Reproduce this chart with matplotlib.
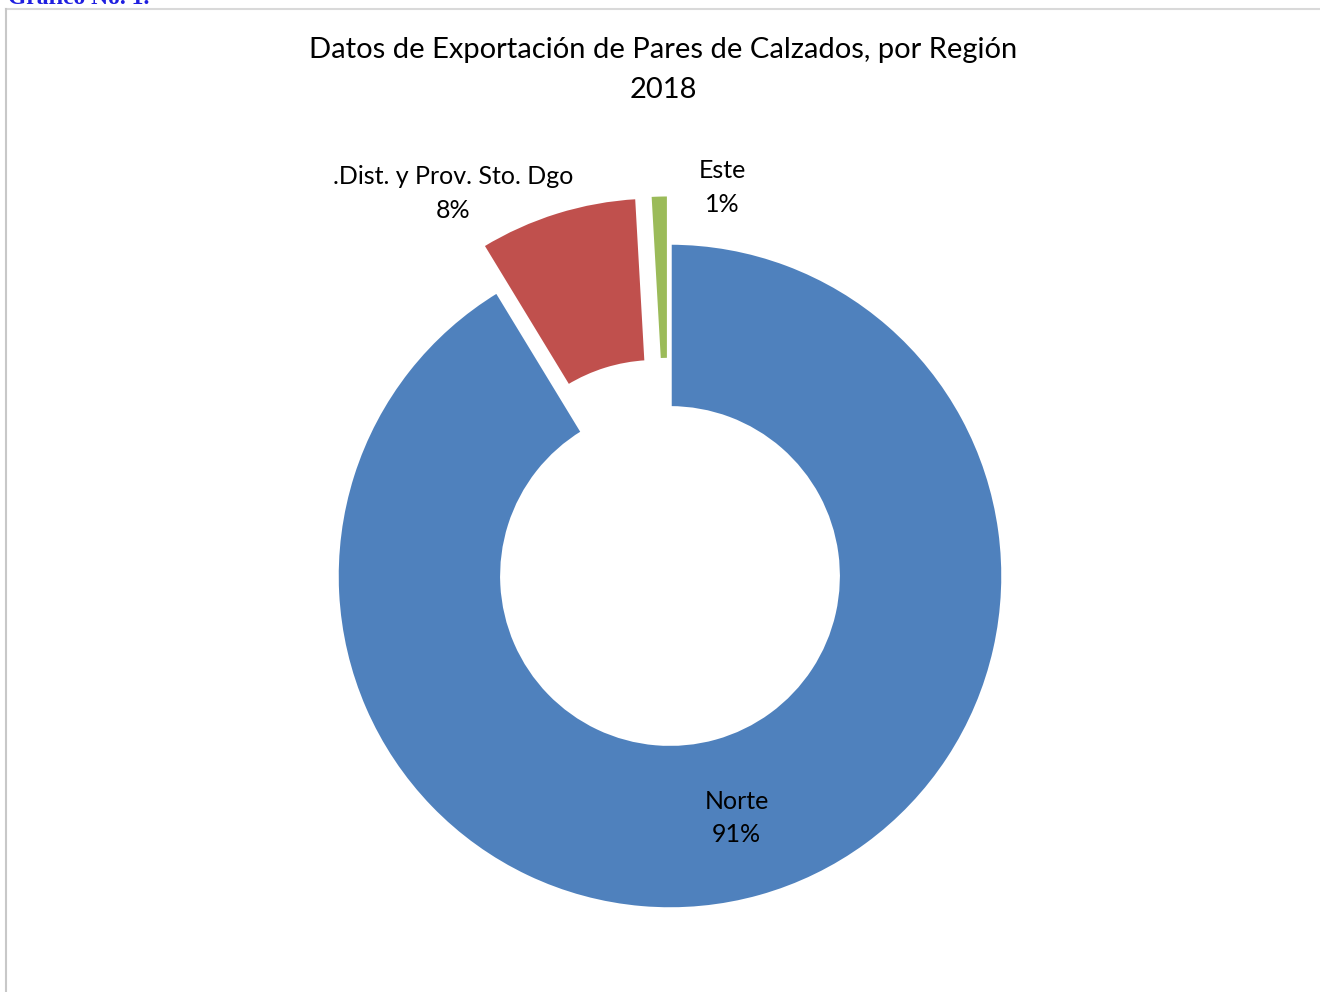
import matplotlib.pyplot as plt
from matplotlib.lines import Line2D

regions = ["Norte", ".Dist. y Prov. Sto. Dgo", "Este"]
shares = [91.3, 7.8, 0.9]
pct_labels = ["91%", "8%", "1%"]
explode = [0.0, 0.145, 0.145]
colors = ["#4F81BD", "#C0504D", "#9BBB59"]

# label placement in data units (radius = 1)
label_pos = [(0.20, -0.727), (-0.65, 1.148), (0.156, 1.166)]

W, H = 1320, 992
fig = plt.figure(figsize=(W / 100, H / 100), dpi=100)
plt.rcParams["font.family"] = ["Lato", "DejaVu Sans"]

# frame of the embedded chart
fig.add_artist(Line2D([6 / W, 1], [1 - 9 / H, 1 - 9 / H], color="#d9d9d9", lw=1.5))
fig.add_artist(Line2D([6 / W, 6 / W], [0, 1 - 9 / H], color="#c8c8c8", lw=1.5))
fig.text(8 / W, 1 - 4 / H, "Gráfico No. 1.", color="#1f1fe0", fontsize=17,
         family="Liberation Serif", weight="bold", va="baseline", ha="left")

cx, cy, r_px, half = 670, 576, 333, 400
ax = fig.add_axes([(cx - half) / W, (H - cy - half) / H, 2 * half / W, 2 * half / H])
lim = half / r_px

ax.pie(shares, explode=explode, colors=colors, startangle=90, counterclock=False,
       radius=1.0, wedgeprops=dict(width=0.495, edgecolor="white", linewidth=2.5),
       frame=True)
ax.set_xlim(-lim, lim)
ax.set_ylim(-lim, lim)
ax.set_aspect("equal")
ax.axis("off")

for name, pct, (x, y) in zip(regions, pct_labels, label_pos):
    ax.text(x, y, f"{name}\n{pct}", ha="center", va="center", fontsize=18,
            color="black", linespacing=1.55)

fig.text(663 / W, 1 - 70 / H, "Datos de Exportación de Pares de Calzados, por Región\n2018",
         ha="center", va="center", fontsize=21, linespacing=1.62)

fig.savefig("out.png", dpi=100, facecolor="white")
